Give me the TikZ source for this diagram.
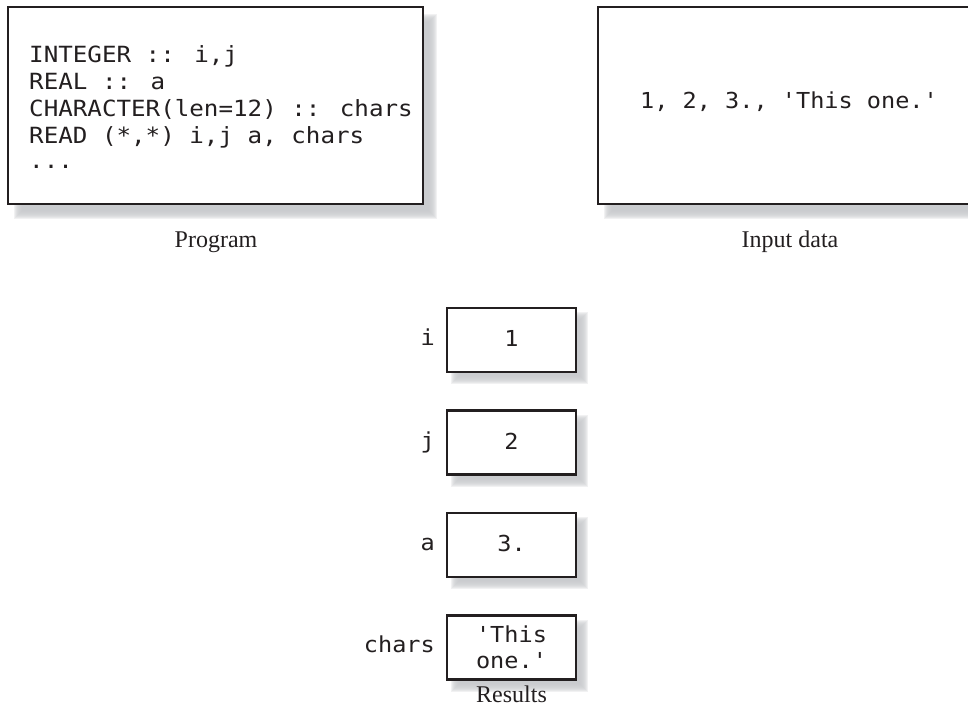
\documentclass[tikz,border=0pt]{standalone}
\usepackage{fontspec}
\setmainfont{Liberation Serif}
\newfontfamily\codefont[FakeStretch=1.07]{DejaVu Sans Mono}
\newfontfamily\listfont[FakeStretch=1.085]{DejaVu Sans Mono}
\definecolor{ink}{RGB}{35,31,32}
\definecolor{shadowtone}{RGB}{198,200,203}
\pgfdeclarelayer{shadowlayer}
\pgfsetlayers{shadowlayer,main}

\tikzset{
  framebox/.style={draw=ink, line width=2.6pt, fill=white, inner sep=0pt, outer sep=0pt},
  code/.style={font=\codefont\fontsize{22}{27}\selectfont, text=ink, inner sep=0pt},
  listing/.style={font=\listfont\fontsize{22.3}{27}\selectfont, text=ink, inner sep=0pt, anchor=base west},
  caption/.style={font=\fontsize{24}{28}\selectfont, text=ink, inner sep=0pt, anchor=base},
}

% soft drop shadow behind a node: #1 node name, #2/#3 offset
\newcommand\softshadow[3]{%
  \begin{pgfonlayer}{shadowlayer}
    \foreach \k in {0,...,8}{
      \fill[shadowtone, opacity=0.25]
        ([shift={(#2+4-\k,#3+4-\k)}]#1.north west) rectangle
        ([shift={(#2-4+\k,#3-4+\k)}]#1.south east);
    }
  \end{pgfonlayer}}

\begin{document}
\begin{tikzpicture}[x=1pt, y=-1pt]
  \useasboundingbox (0,0) rectangle (968,715);

  % program listing
  \node[framebox, minimum width=415pt, minimum height=197pt] (prog) at (215.5,105.5) {};
  \softshadow{prog}{10}{11}
  \node[listing] (l1) at (29,62.5)  {INTEGER :: i,j};
  \node[listing] (l2) at (29,89.5)  {REAL :: a};
  \node[listing] (l3) at (29,116.5) {CHARACTER(len=12) :: chars};
  \node[listing] (l4) at (29,143.5) {READ (*,*) i,j a, chars};
  \node[listing] (l5) at (29,168)   {...};
  \node[caption] (progcap) at (216,247) {Program};

  % input record
  \node[framebox, minimum width=387pt, minimum height=197pt] (input) at (791.5,105.5) {};
  \softshadow{input}{10}{11}
  \node[code, anchor=base west] (rec) at (640,108) {1, 2, 3., 'This one.'};
  \node[caption] (inputcap) at (790,247) {Input data};

  % variables after the READ
  \foreach \name/\val/\cy in {vi/1/340, vj/2/442.5, va/3./545}{
    \node[framebox, minimum width=129pt, minimum height=64pt] (\name) at (511.5,\cy) {};
    \softshadow{\name}{8}{8}
    \node[code, anchor=base] (\name val) at (511.5,\cy+6.5) {\val};
  }
  \node[framebox, minimum width=129pt, minimum height=64pt] (vc) at (511.5,647.5) {};
  \softshadow{vc}{8}{8}
  \node[code, align=center, font=\codefont\fontsize{22}{26}\selectfont] (vcval) at (511.5,647.5) {'This\\one.'};

  \node[code, anchor=base east] (ni) at (435,345.5) {i};
  \node[code, anchor=base east] (nj) at (435,448)   {j};
  \node[code, anchor=base east] (na) at (435,550.5) {a};
  \node[code, anchor=base east] (nc) at (435,652.5) {chars};

  \node[caption] (rescap) at (511.5,702) {Results};
\end{tikzpicture}
\end{document}
